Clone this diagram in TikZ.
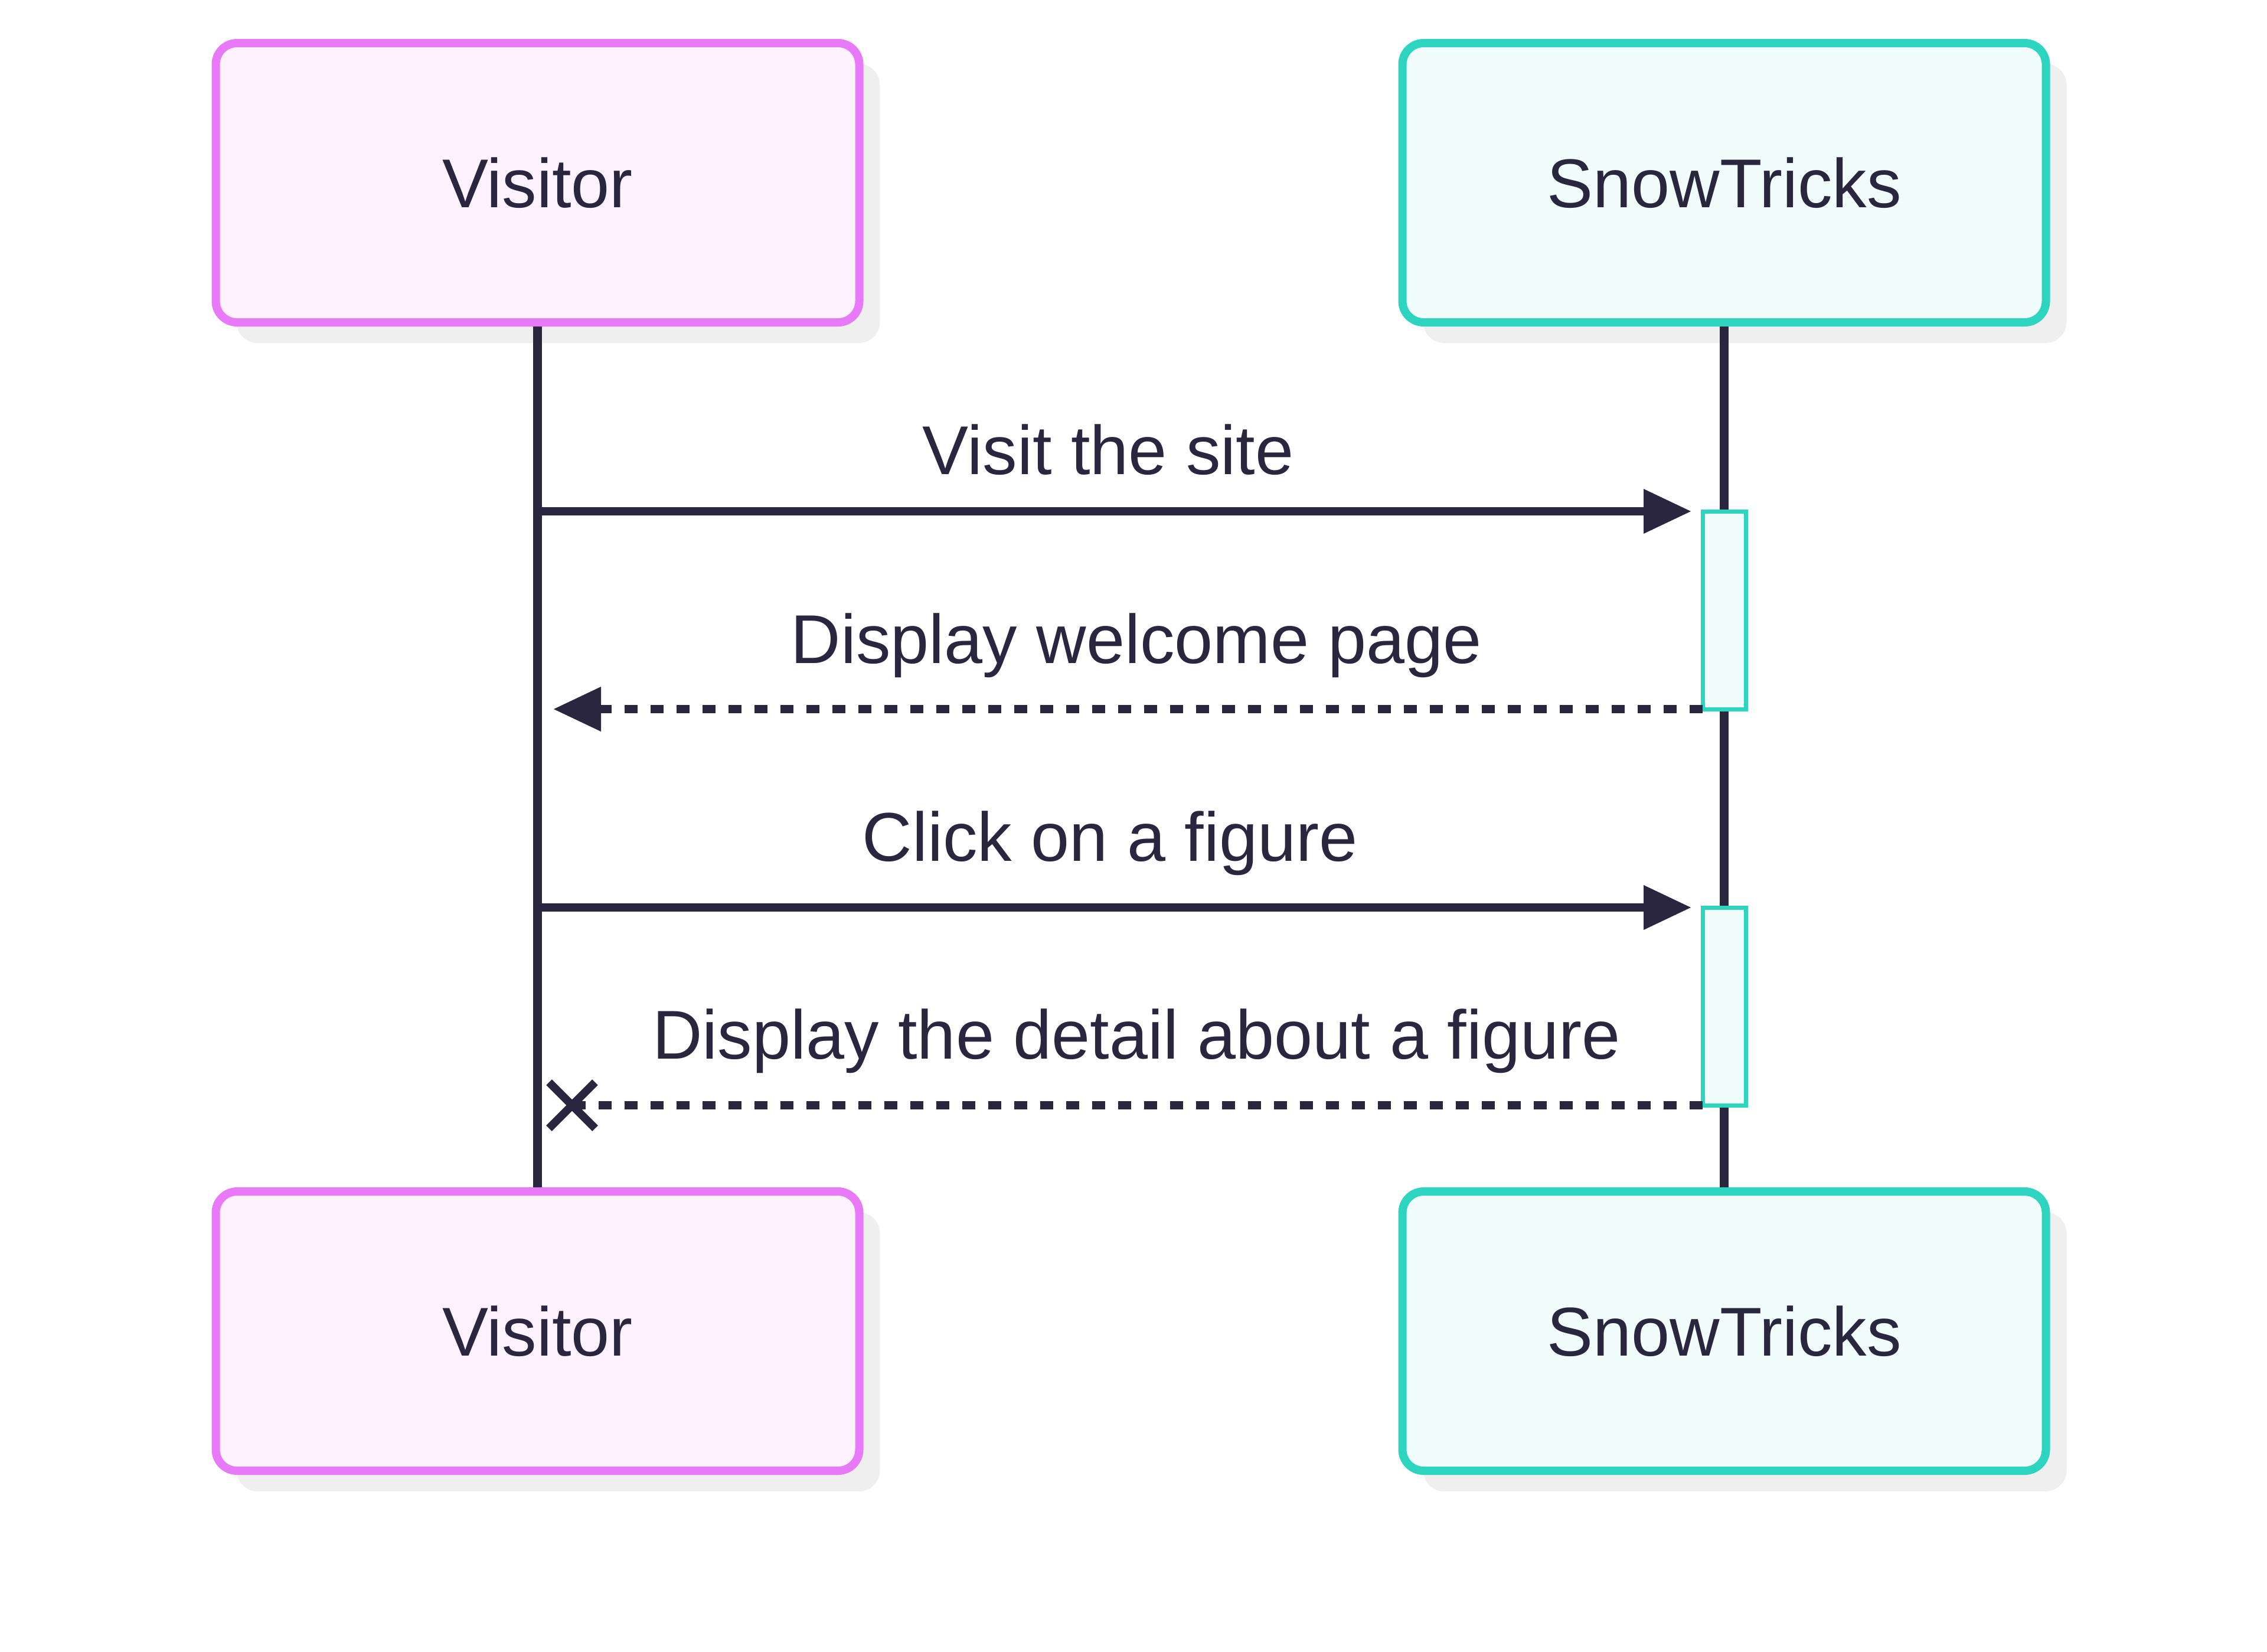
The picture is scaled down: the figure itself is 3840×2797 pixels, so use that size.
\documentclass[tikz,border=0pt]{standalone}
\usepackage{fontspec}
\setmainfont{Liberation Sans}
\usetikzlibrary{arrows.meta,shadows}

\definecolor{ink}{HTML}{2A2640}
\definecolor{visline}{HTML}{E879F9}
\definecolor{visfill}{HTML}{FDF2FE}
\definecolor{snowline}{HTML}{2DD4BF}
\definecolor{snowfill}{HTML}{F0FDFA}
\definecolor{shade}{HTML}{EFEFEF}

\begin{document}
\begin{tikzpicture}[x=0.25pt,y=-0.25pt,
  actorbox/.style={rectangle, rounded corners=9pt, line width=3.5pt,
    minimum width=272.5pt, minimum height=118.25pt, inner sep=0pt,
    text height=21pt, text depth=0pt, text=ink,
    font=\fontsize{29.25}{35}\selectfont,
    general shadow={fill=shade, shadow xshift=8.75pt, shadow yshift=-8.75pt}},
  visitor/.style={actorbox, draw=visline, fill=visfill},
  snow/.style={actorbox, draw=snowline, fill=snowfill},
  lifeline/.style={draw=ink, line width=3.75pt},
  actbar/.style={rectangle, draw=snowline, fill=snowfill, line width=1.75pt,
    minimum width=18.25pt, minimum height=83.75pt, inner sep=0pt, outer sep=0pt},
  lbl/.style={anchor=base, inner sep=0pt, text=ink,
    font=\fontsize{29.25}{35}\selectfont},
  call/.style={draw=ink, line width=3.5pt,
    -{Triangle[length=20pt, width=19pt, line width=0pt]}},
  reply/.style={call, dash pattern=on 5.5pt off 5.5pt},
  lost/.style={draw=ink, line width=3.5pt, dash pattern=on 5.5pt off 5.5pt},
  crossmark/.style={draw=ink, line width=3.4pt}
]
\useasboundingbox (0,0) rectangle (3840,2797);

% participants, top row
\node[visitor] (vtop) at (910.5,309.5) {Visitor};
\node[snow] (stop) at (2920.5,309.5) {SnowTricks};

% participants, bottom row positions
\coordinate (vbotc) at (910.5,2254.5);
\coordinate (sbotc) at (2920.5,2254.5);

% lifelines
\draw[lifeline] (vtop.south) -- ([yshift=59.125pt]vbotc);
\draw[lifeline] (stop.south) -- ([yshift=59.125pt]sbotc);

% participants, bottom row
\node[visitor] (vbot) at (vbotc) {Visitor};
\node[snow] (sbot) at (sbotc) {SnowTricks};

% activation bars
\node[actbar] (a1) at (2920.5,1033.5) {};
\node[actbar] (a2) at (2920.5,1704.5) {};

% anchor points on the Visitor lifeline
\coordinate (v1) at (911,866);
\coordinate (v2) at (938,1201);
\coordinate (v3) at (911,1537);
\coordinate (v4) at (969,1872);

% messages
\draw[call] (v1) -- ([xshift=-5pt]a1.north west);
\node[lbl] (l1) at (1877,803) {Visit the site};

\draw[reply] (a1.south west) -- (v2);
\node[lbl] (l2) at (1925,1123) {Display welcome page};

\draw[call] (v3) -- ([xshift=-5pt]a2.north west);
\node[lbl] (l3) at (1880,1458) {Click on a figure};

\draw[lost] (a2.south west) -- (v4);
\draw[crossmark] ([xshift=-9.75pt,yshift=9.75pt]v4) -- ([xshift=9.75pt,yshift=-9.75pt]v4)
  ([xshift=-9.75pt,yshift=-9.75pt]v4) -- ([xshift=9.75pt,yshift=9.75pt]v4);
\node[lbl] (l4) at (1925,1793) {Display the detail about a figure};
\end{tikzpicture}
\end{document}
